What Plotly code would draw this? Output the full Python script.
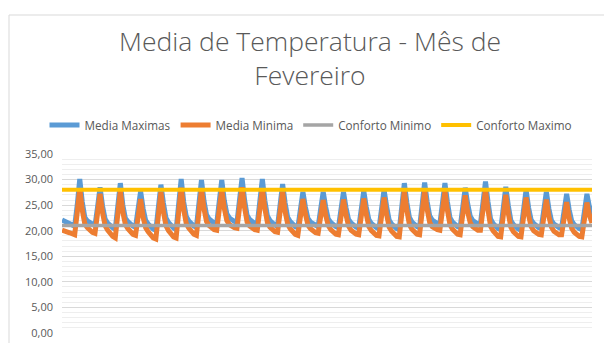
import plotly.graph_objects as go

# Samples: 8 per day (26 days) plus 2 final points
media_maximas = [
    22.1, 21.9, 21.6, 21.3, 21.1, 20.9, 25.0, 30.1,
    25.6, 22.6, 21.9, 21.5, 21.2, 21.0, 24.5, 28.5,
    24.8, 22.3, 21.5, 20.9, 20.6, 20.3, 24.6, 29.3,
    25.0, 22.4, 21.8, 21.3, 20.9, 20.7, 24.0, 27.7,
    24.3, 22.0, 21.3, 20.7, 20.3, 20.1, 24.4, 29.0,
    25.4, 22.5, 21.6, 20.9, 20.5, 20.2, 25.0, 30.1,
    25.6, 22.8, 21.9, 21.3, 20.9, 20.7, 25.2, 29.9,
    25.8, 23.1, 22.3, 21.8, 21.5, 21.4, 25.5, 29.9,
    25.9, 23.3, 22.5, 22.0, 21.8, 21.7, 25.8, 30.3,
    26.0, 23.0, 22.2, 21.7, 21.4, 21.3, 25.6, 30.1,
    25.9, 22.9, 22.0, 21.5, 21.1, 20.9, 25.0, 29.1,
    25.4, 22.6, 21.8, 21.2, 20.8, 20.6, 24.0, 27.6,
    24.6, 22.4, 21.7, 21.3, 21.0, 20.8, 24.2, 27.6,
    24.6, 22.3, 21.6, 21.1, 20.8, 20.6, 24.0, 27.6,
    24.5, 22.2, 21.5, 21.0, 20.7, 20.5, 24.0, 27.8,
    24.6, 22.2, 21.4, 20.9, 20.6, 20.4, 24.1, 28.0,
    24.8, 22.1, 21.3, 20.7, 20.4, 20.2, 24.6, 29.3,
    25.5, 22.6, 21.7, 21.1, 20.8, 20.6, 24.9, 29.4,
    25.7, 22.9, 22.1, 21.6, 21.4, 21.3, 25.2, 29.3,
    25.6, 22.5, 21.7, 21.1, 20.8, 20.6, 24.5, 28.4,
    25.2, 22.8, 22.0, 21.5, 21.3, 21.3, 25.3, 29.6,
    25.6, 22.3, 21.4, 20.8, 20.4, 20.2, 24.3, 28.6,
    24.9, 22.0, 21.2, 20.6, 20.3, 20.1, 24.0, 28.0,
    24.5, 22.1, 21.4, 20.9, 20.6, 20.5, 24.0, 27.6,
    24.3, 22.0, 21.3, 20.8, 20.6, 20.5, 23.8, 27.2,
    24.1, 21.9, 21.2, 20.7, 20.4, 20.2, 23.7, 27.2,
    24.6, 22.5,
]

media_minima = [
    20.1, 20.0, 19.8, 19.6, 19.4, 19.2, 23.5, 28.3,
    24.0, 21.3, 20.6, 20.1, 19.7, 19.5, 23.2, 27.2,
    23.5, 21.0, 20.1, 19.4, 18.9, 18.6, 23.0, 27.8,
    23.6, 21.2, 20.4, 19.8, 19.3, 19.1, 22.6, 26.2,
    22.6, 20.6, 19.8, 19.1, 18.6, 18.4, 22.8, 27.5,
    23.7, 21.0, 20.0, 19.3, 18.8, 18.6, 23.4, 28.4,
    24.1, 21.4, 20.5, 19.8, 19.3, 19.1, 23.6, 28.1,
    24.3, 21.8, 21.0, 20.5, 20.2, 20.1, 24.0, 28.0,
    24.4, 22.0, 21.2, 20.8, 20.6, 20.5, 24.4, 28.5,
    24.5, 21.7, 20.9, 20.4, 20.2, 20.1, 24.1, 28.2,
    24.3, 21.6, 20.7, 20.1, 19.8, 19.7, 23.6, 27.6,
    23.7, 21.3, 20.4, 19.7, 19.3, 19.1, 22.6, 26.2,
    23.2, 21.1, 20.4, 19.9, 19.6, 19.5, 22.7, 26.0,
    23.0, 21.0, 20.2, 19.6, 19.3, 19.2, 22.6, 26.1,
    23.1, 20.9, 20.1, 19.6, 19.3, 19.2, 22.7, 26.3,
    23.2, 20.8, 20.0, 19.5, 19.1, 19.0, 22.8, 26.5,
    23.2, 20.7, 19.9, 19.3, 18.9, 18.8, 23.3, 27.8,
    24.0, 21.2, 20.3, 19.7, 19.3, 19.2, 23.5, 27.9,
    24.2, 21.6, 20.8, 20.4, 20.2, 20.1, 23.9, 27.7,
    24.0, 21.2, 20.3, 19.7, 19.3, 19.2, 23.0, 26.9,
    23.6, 21.5, 20.8, 20.3, 20.1, 20.1, 24.0, 28.0,
    24.0, 20.9, 20.0, 19.3, 18.9, 18.8, 22.9, 27.0,
    23.4, 20.7, 19.8, 19.2, 18.9, 18.8, 22.6, 26.5,
    23.0, 20.8, 20.0, 19.5, 19.3, 19.2, 22.6, 26.1,
    22.8, 20.7, 19.9, 19.4, 19.2, 19.2, 22.4, 25.6,
    22.5, 20.5, 19.7, 19.2, 18.9, 18.8, 22.1, 25.5,
    23.0, 21.5,
]

conforto_minimo_valor = 21.0
conforto_maximo_valor = 28.0

x_vals = list(range(len(media_maximas)))
conforto_minimo = [conforto_minimo_valor] * len(x_vals)
conforto_maximo = [conforto_maximo_valor] * len(x_vals)

y_ticks = [0, 5, 10, 15, 20, 25, 30, 35]

TXT = "#595959"
FONT = "Open Sans"

fig = go.Figure()
series = [
    ("Media Maximas", media_maximas, "#5B9BD5", 5.0),
    ("Media Minima", media_minima, "#ED7D31", 5.0),
    ("Conforto Minimo", conforto_minimo, "#A5A5A5", 3.5),
    ("Conforto Maximo", conforto_maximo, "#FFC000", 4.0),
]
for name, vals, col, wd in series:
    fig.add_trace(go.Scatter(x=x_vals, y=vals, mode="lines", name=name,
                             line=dict(color=col, width=wd), hoverinfo="skip"))

W, H = 604, 343
L, R, T, B = 62, 12, 154, 10
pw, ph = W - L - R, H - T - B

def px_x(X):
    return (X - L) / pw

def px_y(Y):
    return (H - B - Y) / ph

fig.update_layout(
    width=W, height=H,
    margin=dict(l=L, r=R, t=T, b=B, autoexpand=False),
    paper_bgcolor="white", plot_bgcolor="white",
    separators=",.",
    font=dict(family=FONT, color=TXT),
    showlegend=True,
    legend=dict(orientation="h", x=px_x(311), xanchor="center",
                y=px_y(125), yanchor="middle",
                font=dict(family=FONT, size=11.7, color=TXT),
                bgcolor="rgba(0,0,0,0)", itemwidth=30, traceorder="normal"),
    xaxis=dict(range=[0, len(x_vals) - 1], showticklabels=False, showgrid=False,
               zeroline=False, showline=False, ticks=""),
    yaxis=dict(range=[0, 35], tickvals=y_ticks, tickformat=".2f",
               gridcolor="#d9d9d9", gridwidth=1, zeroline=False, showline=False,
               ticks="", ticklabelstandoff=8,
               tickfont=dict(family=FONT, size=11, color=TXT),
               minor=dict(dtick=1, showgrid=True, gridcolor="#eeeeee", gridwidth=1)),
    annotations=[dict(text="Media de Temperatura - Mês de<br>Fevereiro",
                      xref="paper", yref="paper", x=px_x(310), y=px_y(58.5),
                      xanchor="center", yanchor="middle", showarrow=False,
                      font=dict(family=FONT, size=26.5, color=TXT, weight=300))],
    shapes=[dict(type="rect", xref="paper", yref="paper",
                 x0=px_x(9), x1=px_x(620), y0=px_y(360), y1=px_y(15),
                 line=dict(color="#d9d9d9", width=1), fillcolor="rgba(0,0,0,0)",
                 layer="below")],
)

fig.write_html(
    "out.html",
    config={"displayModeBar": False, "staticPlot": True},
    post_script="document.body.style.margin='0';document.body.style.overflow='hidden';",
)
